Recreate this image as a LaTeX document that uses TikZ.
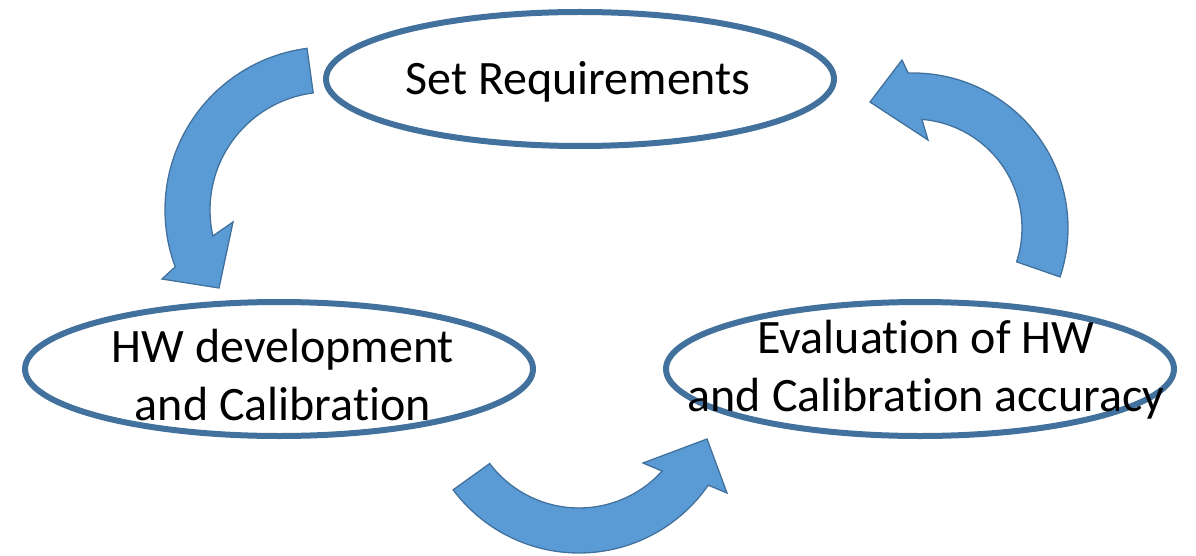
\documentclass[tikz,border=0pt]{standalone}
\usepackage{fontspec}
\setmainfont{Carlito}[Ligatures=CommonOff]
\usetikzlibrary{shapes.geometric,calc}

\definecolor{ringblue}{HTML}{41719C}
\definecolor{arrowblue}{HTML}{5B9BD5}

\tikzset{
  stage/.style={ellipse,draw=ringblue,line width=6pt,fill=white,
    minimum width=508pt,minimum height=134pt,inner sep=0pt},
  stage text/.style={align=center,font=\fontsize{48}{58}\selectfont},
  cycle arrow/.style={draw=ringblue,line width=1.3pt,fill=arrowblue,line join=miter}
}

\begin{document}
\begin{tikzpicture}[x=1pt,y=-1pt]
  \useasboundingbox (0,0) rectangle (1196,556);

  % the three stages
  \node[stage] (req) at (580,79) {};
  \node[stage] (dev) at (279,369) {};
  \node[stage] (eval) at (920,369) {};

  \node[stage text] (req text) at (578,82) {Set Requirements};
  \node[stage text] (dev text) at (283,375) {HW development\\and Calibration};
  \node[stage text] (eval text) at (926,370) {Evaluation of HW\\and Calibration accuracy};

  % centres of the curved arrows
  \coordinate (c1) at (328,210);
  \coordinate (c2) at (913,228);
  \coordinate (c3) at (579,396);

  % requirements -> development
  \draw[cycle arrow] ($(c1)+(-97.4:163)$) arc[start angle=-97.4,end angle=-200.4,radius=163]
    -- (162,279) -- (219,288) -- (233,222)
    -- ($(c1)+(-192.7:118)$) arc[start angle=-192.7,end angle=-97.2,radius=118] -- cycle;

  % development -> evaluation
  \draw[cycle arrow] ($(c3)+(143.3:157)$) arc[start angle=143.3,end angle=34.6,radius=157]
    -- (727,493) -- (707,439) -- (643,463)
    -- ($(c3)+(42.1:112)$) arc[start angle=42.1,end angle=142.9,radius=112] -- cycle;

  % evaluation -> requirements
  \draw[cycle arrow] ($(c2)+(18.4:155)$) arc[start angle=18.4,end angle=-91.8,radius=155]
    -- (902,60) -- (870,102) -- (928,140)
    -- ($(c2)+(-85.3:109)$) arc[start angle=-85.3,end angle=18.1,radius=109] -- cycle;

\end{tikzpicture}
\end{document}
